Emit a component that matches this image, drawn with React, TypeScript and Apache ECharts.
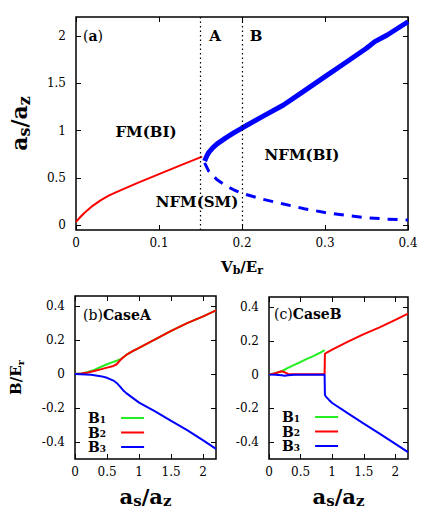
import React, { useEffect, useRef } from "react";
import * as echarts from "echarts";

// ---------- data: panel (a) ----------
const aRedX = [0, 0.005, 0.01, 0.02, 0.03, 0.04, 0.05, 0.075, 0.1, 0.125, 0.152];
const aRedY = [0.035, 0.085, 0.13, 0.205, 0.265, 0.315, 0.355, 0.45, 0.54, 0.63, 0.725];
const aUpX = [0.155, 0.156, 0.158, 0.16, 0.165, 0.17, 0.18, 0.19, 0.2, 0.225, 0.25, 0.275, 0.3, 0.325, 0.35, 0.36, 0.375, 0.4];
const aUpY = [0.68, 0.7, 0.74, 0.77, 0.82, 0.86, 0.92, 0.975, 1.027, 1.15, 1.27, 1.42, 1.57, 1.72, 1.87, 1.94, 2.01, 2.15];
const aLowX = [0.155, 0.16, 0.17, 0.18, 0.19, 0.2, 0.225, 0.25, 0.275, 0.3, 0.325, 0.35, 0.375, 0.4];
const aLowY = [0.66, 0.57, 0.48, 0.42, 0.375, 0.337, 0.275, 0.225, 0.175, 0.135, 0.105, 0.08, 0.065, 0.055];
const aVLines = [0.15, 0.2];
const aXTicks = [0, 0.1, 0.2, 0.3, 0.4];
const aYTicks = [0, 0.5, 1, 1.5, 2];

// ---------- data: panel (b) Case A ----------
const bB1X = [0, 0.1, 0.2, 0.3, 0.4, 0.5, 0.6, 0.65, 0.68, 0.72, 0.75, 0.8, 0.9, 1.0, 1.25, 1.5, 1.75, 2.0, 2.2];
const bB1Y = [0, 0.004, 0.012, 0.025, 0.042, 0.058, 0.072, 0.079, 0.084, 0.09, 0.098, 0.113, 0.135, 0.155, 0.205, 0.255, 0.3, 0.34, 0.375];
const bB2X = [0, 0.1, 0.2, 0.3, 0.4, 0.5, 0.6, 0.65, 0.7, 0.75, 0.8, 0.9, 1.0, 1.25, 1.5, 1.75, 2.0, 2.2];
const bB2Y = [0, 0.004, 0.01, 0.018, 0.028, 0.038, 0.048, 0.058, 0.08, 0.098, 0.113, 0.135, 0.155, 0.205, 0.255, 0.3, 0.34, 0.375];
const bB3X = [0, 0.25, 0.4, 0.5, 0.6, 0.65, 0.7, 0.75, 0.8, 0.9, 1.0, 1.25, 1.5, 1.75, 2.0, 2.2];
const bB3Y = [0, -0.004, -0.012, -0.022, -0.038, -0.052, -0.072, -0.095, -0.112, -0.14, -0.168, -0.22, -0.275, -0.33, -0.39, -0.44];

// ---------- data: panel (c) Case B ----------
const cB1X = [0, 0.1, 0.2, 0.3, 0.4, 0.5, 0.6, 0.7, 0.8, 0.88];
const cB1Y = [0, 0.008, 0.02, 0.04, 0.058, 0.075, 0.093, 0.11, 0.128, 0.145];
const cB2X = [0, 0.1, 0.2, 0.25, 0.3, 0.4, 0.6, 0.8, 0.88, 0.885, 0.9, 1.0, 1.25, 1.5, 1.75, 2.0, 2.2];
const cB2Y = [0, 0.008, 0.02, 0.014, 0.004, 0.002, 0.002, 0.002, 0.002, 0.124, 0.127, 0.148, 0.195, 0.24, 0.28, 0.325, 0.362];
const cB3X = [0, 0.1, 0.2, 0.25, 0.3, 0.4, 0.6, 0.8, 0.88, 0.885, 0.9, 0.95, 1.0, 1.25, 1.5, 1.75, 2.0, 2.2];
const cB3Y = [0, -0.001, -0.004, -0.006, -0.004, -0.001, 0, 0, 0, -0.12, -0.13, -0.15, -0.168, -0.23, -0.29, -0.35, -0.41, -0.459];
const bcXTicks = [0, 0.5, 1, 1.5, 2];
const bcYTicks = [-0.4, -0.2, 0, 0.2, 0.4];

const FONT = "DejaVu Serif";
const RED = "#ff0000";
const GREEN = "#22ee22";
const BLUE = "#0000ff";

const pairs = (xs: number[], ys: number[]) => xs.map((x, i) => [x, ys[i]]);

const richName = (big: number, small: number, lh: number) => ({
  b: { fontFamily: FONT, fontWeight: "bold", fontSize: big, lineHeight: lh, color: "#000" },
  s: { fontFamily: FONT, fontWeight: "bold", fontSize: small, lineHeight: small, verticalAlign: "bottom", color: "#000" },
});

const tickLabelFmt = (v: number) => String(Math.round(v * 100) / 100);

const tickStyle = (ticks: number[]) => ({
  show: true, inside: true, length: 5, customValues: ticks, lineStyle: { color: "#000", width: 1 },
});

function xAxes(gridIndex: number, min: number, max: number, ticks: number[], name: string, nameGap: number, rich: any) {
  return [
    {
      type: "value", gridIndex, min, max, position: "bottom",
      axisLine: { show: false, onZero: false },
      splitLine: { show: false },
      axisTick: tickStyle(ticks),
      axisLabel: { show: true, customValues: ticks, margin: 7, color: "#000", fontFamily: FONT, fontSize: 12, formatter: tickLabelFmt },
      name, nameLocation: "middle", nameGap, nameTextStyle: { rich },
    },
    {
      type: "value", gridIndex, min, max, position: "top",
      axisLine: { show: false, onZero: false },
      splitLine: { show: false },
      axisTick: tickStyle(ticks),
      axisLabel: { show: false },
    },
  ];
}

function yAxes(gridIndex: number, min: number, max: number, ticks: number[], name: string, nameGap: number, rich: any) {
  return [
    {
      type: "value", gridIndex, min, max, position: "left",
      axisLine: { show: false, onZero: false },
      splitLine: { show: false },
      axisTick: tickStyle(ticks),
      axisLabel: { show: true, customValues: ticks, margin: 10, color: "#000", fontFamily: FONT, fontSize: 12, formatter: tickLabelFmt },
      name, nameLocation: "middle", nameGap, nameRotate: 90, nameTextStyle: { rich },
    },
    {
      type: "value", gridIndex, min, max, position: "right",
      axisLine: { show: false, onZero: false },
      splitLine: { show: false },
      axisTick: tickStyle(ticks),
      axisLabel: { show: false },
    },
  ];
}

function line(name: string, xi: number, data: number[][], color: string, width: number, type: any = "solid", z = 2) {
  return {
    name, type: "line", xAxisIndex: xi, yAxisIndex: xi, data,
    showSymbol: false, symbol: "none", z,
    lineStyle: { color, width, type, cap: "butt" },
    itemStyle: { color },
    emphasis: { disabled: true },
  };
}

const legendNames: Record<string, string> = {
  bB1: "{b|B}{s|1}{g|}", bB2: "{b|B}{s|2}{g|}", bB3: "{b|B}{s|3}{g|}",
  cB1: "{b|B}{s|1}{g|}", cB2: "{b|B}{s|2}{g|}", cB3: "{b|B}{s|3}{g|}",
};

function legend(left: number, top: number, names: string[]) {
  return {
    orient: "vertical", left, top, itemGap: 0.5, itemWidth: 23, itemHeight: 2,
    align: "right", icon: "rect", selectedMode: false,
    data: names,
    formatter: (n: string) => legendNames[n],
    textStyle: {
      fontFamily: FONT,
      rich: {
        b: { fontFamily: FONT, fontWeight: "bold", fontSize: 14, lineHeight: 12.5, color: "#000" },
        s: { fontFamily: FONT, fontWeight: "bold", fontSize: 9, lineHeight: 9, verticalAlign: "bottom", color: "#000" },
        g: { width: 10 },
      },
    },
  };
}

const labelText = (x: number, y: number, text: string, align = "center", size = 16, rich?: any) => ({
  type: "text", x, y, silent: true,
  style: {
    text, x: 0, y: 0, align, verticalAlign: "middle", fill: "#000",
    fontFamily: FONT, fontWeight: "bold", fontSize: size,
    rich,
  },
});

const panelRich = {
  r: { fontFamily: FONT, fontSize: 14, fontWeight: "normal", fill: "#000", color: "#000" },
  k: { fontFamily: FONT, fontSize: 14, fontWeight: "bold", fill: "#000", color: "#000" },
};

export default function App() {
  const ref = useRef<HTMLDivElement>(null);
  useEffect(() => {
    if (!ref.current) return;
    const chart = echarts.init(ref.current, null, { renderer: "svg" });
    const option: any = {
      animation: false,
      backgroundColor: "#fff",
      textStyle: { fontFamily: FONT },
      grid: [
        { left: 75, top: 17, width: 333, height: 213, show: true, borderColor: "#000", borderWidth: 1.5, backgroundColor: "transparent" },
        { left: 75, top: 296, width: 141, height: 163, show: true, borderColor: "#000", borderWidth: 1.5, backgroundColor: "transparent" },
        { left: 269, top: 297, width: 139, height: 162, show: true, borderColor: "#000", borderWidth: 1.5, backgroundColor: "transparent" },
      ],
      xAxis: [
        ...xAxes(0, 0, 0.4, aXTicks, "{b|V}{s|b}{b|/E}{s|r}", 28, richName(15, 11, 18)),
        ...xAxes(1, 0, 2.2, bcXTicks, "{b|a}{s|s}{b|/a}{s|z}", 25, richName(21, 15, 24)),
        ...xAxes(2, 0, 2.2, bcXTicks, "{b|a}{s|s}{b|/a}{s|z}", 25, richName(21, 15, 24)),
      ],
      yAxis: [
        ...yAxes(0, -0.05, 2.2, aYTicks, "{b|a}{s|s}{b|/a}{s|z}", 44, richName(22, 16, 26)),
        ...yAxes(1, -0.5, 0.46, bcYTicks, "{b|B/E}{s|r}", 50, richName(15, 10, 18)),
        ...yAxes(2, -0.5, 0.46, bcYTicks, "", 50, richName(15, 10, 18)),
      ],
      legend: [
        legend(83, 406, ["bB1", "bB2", "bB3"]),
        legend(277, 405, ["cB1", "cB2", "cB3"]),
      ],
      series: [
        {
          ...line("aRed", 0, pairs(aRedX, aRedY), RED, 2),
          markLine: {
            silent: true, symbol: "none", label: { show: false },
            lineStyle: { type: [1.5, 3], color: "#000", width: 1.2 },
            emphasis: { disabled: true },
            data: aVLines.map((v) => ({ xAxis: v })),
          },
        },
        line("aUp", 0, pairs(aUpX, aUpY), BLUE, 5),
        line("aLow", 0, pairs(aLowX, aLowY), BLUE, 3, [10, 8]),
        line("bB1", 2, pairs(bB1X, bB1Y), GREEN, 2, "solid", 2),
        line("bB2", 2, pairs(bB2X, bB2Y), RED, 2, "solid", 3),
        line("bB3", 2, pairs(bB3X, bB3Y), BLUE, 2, "solid", 4),
        line("cB1", 4, pairs(cB1X, cB1Y), GREEN, 2, "solid", 2),
        line("cB2", 4, pairs(cB2X, cB2Y), RED, 2, "solid", 3),
        line("cB3", 4, pairs(cB3X, cB3Y), BLUE, 2, "solid", 4),
      ],
      graphic: [
        labelText(83, 36, "{r|(}{k|a}{r|)}", "left", 14, panelRich),
        labelText(215, 36, "A", "center", 15),
        labelText(256, 36, "B", "center", 15),
        labelText(146, 132, "FM(BI)", "center", 15),
        labelText(302, 155, "NFM(BI)", "center", 15),
        labelText(197, 202, "NFM(SM)", "center", 15),
        labelText(83, 315, "{r|(b)}{k|CaseA}", "left", 14, panelRich),
        labelText(274, 314, "{r|(c)}{k|CaseB}", "left", 14, panelRich),
      ],
    };
    chart.setOption(option);
    return () => chart.dispose();
  }, []);
  return <div ref={ref} style={{ width: 436, height: 509, position: "absolute", left: 0, top: 0 }} />;
}
